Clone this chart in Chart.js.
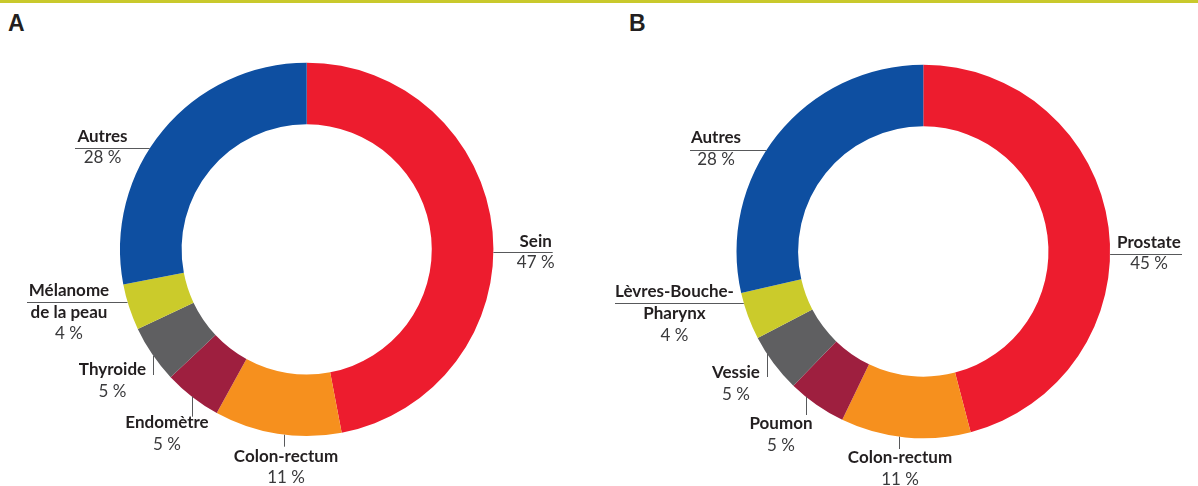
<!DOCTYPE html>
<html>
<head>
<meta charset="utf-8">
<script src="https://cdn.jsdelivr.net/npm/chart.js@4"></script>
<style>
html,body{margin:0;padding:0;background:#fff;}
body{width:1198px;height:486px;position:relative;overflow:hidden;}
#topline{position:absolute;left:0;top:0;width:1198px;height:3px;background:#c9c92c;}
.panel{position:absolute;top:12px;font:bold 23px "Liberation Sans",Arial,sans-serif;color:#231f20;line-height:1;}
canvas{position:absolute;top:0;}
</style>
</head>
<body>
<div id="topline"></div>
<div class="panel" style="left:8px">A</div>
<div class="panel" style="left:629px">B</div>
<canvas id="chartA" width="599" height="486" style="left:0"></canvas>
<canvas id="chartB" width="599" height="486" style="left:599px"></canvas>
<script>
// data
const sitesA = ['Sein', 'Colon-rectum', 'Endomètre', 'Thyroide', 'Mélanome de la peau', 'Autres'];
const sharesA = [47, 11, 5, 5, 4, 28];
const sitesB = ['Prostate', 'Colon-rectum', 'Poumon', 'Vessie', 'Lèvres-Bouche-Pharynx', 'Autres'];
const sharesB = [45, 11, 5, 5, 4, 28];
const sliceColors = ['#ed1c2e', '#f6901e', '#9e1f3f', '#5f5f61', '#cbcb2b', '#0e4fa1'];

// how the names break on lines
const linesA = [['Sein'], ['Colon-rectum'], ['Endomètre'], ['Thyroide'], ['Mélanome', 'de la peau'], ['Autres']];
const linesB = [['Prostate'], ['Colon-rectum'], ['Poumon'], ['Vessie'], ['Lèvres-Bouche-', 'Pharynx'], ['Autres']];

// leader lines, relative to the ring centre
// h: horizontal line at dy=at, running from the ring to dx=end
// v: vertical line at dx=at, running from the ring to dy=end
const leadersA = [
  {kind: 'h', at: 3, end: 246, tx: 229, ty: -2.7},
  {kind: 'v', at: -22.4, end: 197.3, tx: -20.7, ty: 212.3},
  {kind: 'v', at: -115, end: 167.3, tx: -139.7, ty: 178.9},
  {kind: 'v', at: -153.4, end: 125.6, tx: -194.2, ty: 125.6},
  {kind: 'h', at: 52.3, end: -279.7, tx: -237.7, ty: 46.6},
  {kind: 'h', at: -101.1, end: -231.7, tx: -204.2, ty: -107.7}
];
const leadersB = [
  {kind: 'h', at: 2.2, end: 258.7, tx: 225.7, ty: -3.8},
  {kind: 'v', at: -24.3, end: 197.5, tx: -23.3, ty: 211.8},
  {kind: 'v', at: -117.6, end: 163.5, tx: -142.3, ty: 177.5},
  {kind: 'v', at: -156.3, end: 125.5, tx: -187.3, ty: 126.5},
  {kind: 'h', at: 51.8, end: -308.3, tx: -248.8, ty: 45.8},
  {kind: 'h', at: -101.5, end: -233.3, tx: -207.3, ty: -108.2}
];

const lineStep = 21.7;

// labels + leader lines
const calloutPlugin = {
  id: 'callouts',
  afterDraw(chart, args, opts) {
    const ctx = chart.ctx;
    const meta = chart.getDatasetMeta(0);
    const values = chart.data.datasets[0].data;
    ctx.save();
    meta.data.forEach(function(arc, i) {
      const cx = arc.x, cy = arc.y, r = arc.outerRadius;
      const l = opts.leaders[i];
      ctx.strokeStyle = '#58595b';
      ctx.lineWidth = 1;
      ctx.beginPath();
      if (l.kind == 'h') {
        const y = Math.round(cy + l.at) + 0.5;
        const dx = Math.sqrt(r * r - l.at * l.at) * Math.sign(l.end);
        ctx.moveTo(cx + dx, y);
        ctx.lineTo(cx + l.end, y);
      } else {
        const x = Math.round(cx + l.at) + 0.5;
        const dy = Math.sqrt(r * r - l.at * l.at);
        ctx.moveTo(x, cy + dy);
        ctx.lineTo(x, cy + l.end);
      }
      ctx.stroke();

      ctx.textAlign = 'center';
      ctx.textBaseline = 'alphabetic';
      const names = opts.lines[i];
      let y = cy + l.ty;
      ctx.fillStyle = '#231f20';
      ctx.font = 'bold 17px Lato';
      names.forEach(function(t) {
        ctx.fillText(t, cx + l.tx, y);
        y += lineStep;
      });
      ctx.fillStyle = '#3a3a3c';
      ctx.font = '17px Lato';
      ctx.fillText(values[i] + ' %', cx + l.tx, y);
    });
    ctx.restore();
  }
};

function makeDonut(id, names, shares, lines, leaders, pad) {
  return new Chart(document.getElementById(id), {
    type: 'doughnut',
    data: {
      labels: names,
      datasets: [{
        data: shares,
        backgroundColor: sliceColors,
        borderWidth: 0,
        hoverOffset: 0
      }]
    },
    options: {
      responsive: false,
      animation: false,
      events: [],
      cutout: '67%',
      layout: {padding: pad},
      plugins: {
        legend: {display: false},
        tooltip: {enabled: false},
        callouts: {lines: lines, leaders: leaders}
      }
    },
    plugins: [calloutPlugin]
  });
}

Promise.all([
  document.fonts.load('bold 17px Lato'),
  document.fonts.load('17px Lato')
]).catch(function() {}).then(function() {
  makeDonut('chartA', sitesA, sharesA, linesA, leadersA, {left: 120, top: 62.7, right: 105.6, bottom: 49.9});
  makeDonut('chartB', sitesB, sharesB, linesB, leadersB, {left: 137.5, top: 64.7, right: 87.9, bottom: 47.7});
});
</script>
</body>
</html>
